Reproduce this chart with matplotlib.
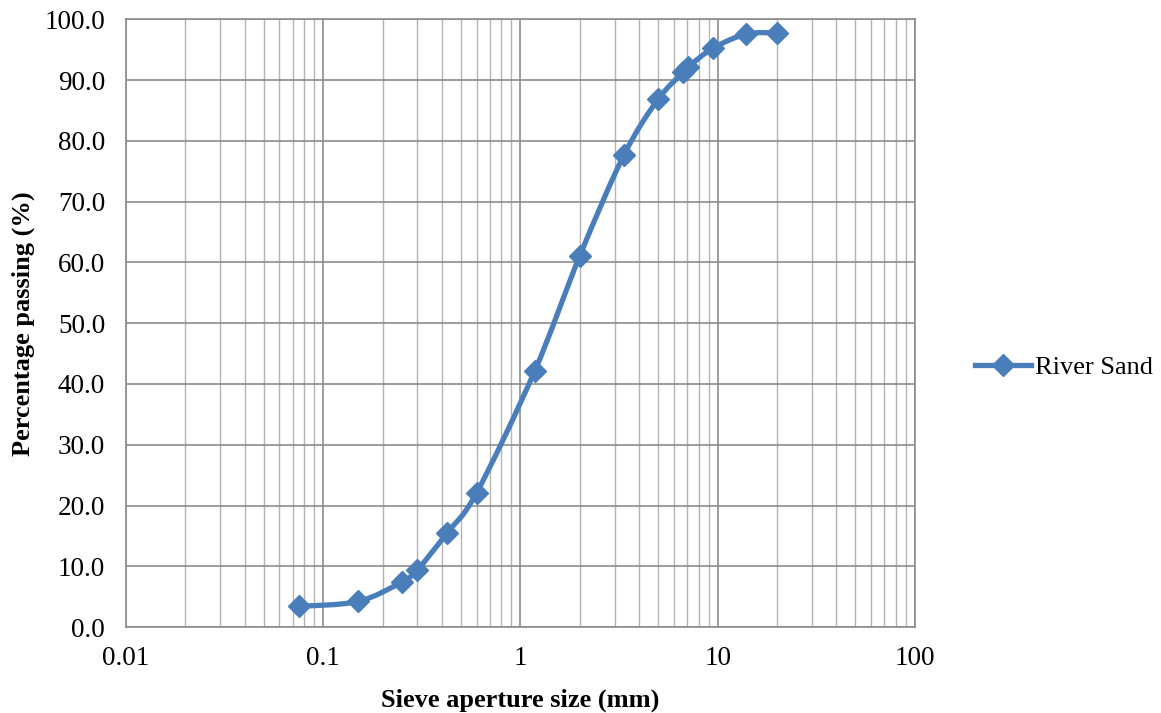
import numpy as np
import matplotlib.pyplot as plt
from matplotlib.path import Path
from matplotlib.patches import PathPatch
from matplotlib.lines import Line2D

# Sieve analysis - river sand
sieve_size = [0.075, 0.15, 0.25, 0.3, 0.425, 0.6, 1.18, 2.0, 3.35, 5.0, 6.7, 7.1, 9.5, 14.0, 20.0]
passing = [3.4, 4.2, 7.4, 9.4, 15.5, 22.1, 42.1, 61.1, 77.7, 86.9, 91.3, 92.2, 95.3, 97.6, 97.8]
series_name = "River Sand"

blue = "#4a7ebb"
plt.rcParams['font.family'] = ['Liberation Serif', 'DejaVu Serif']

fig = plt.figure(figsize=(11.61, 7.13), dpi=100)
ax = fig.add_axes([0.1085, 0.1206, 0.6795, 0.8521])
ax.set_xscale('log')
ax.set_xlim(0.01, 100)
ax.set_ylim(0, 100)

# smoothed line like excel: bezier control points worked out in log-x space
lx = np.log10(sieve_size)
py = np.array(passing)
n = len(lx)
verts = [(sieve_size[0], passing[0])]
codes = [Path.MOVETO]
for i in range(n - 1):
    a = max(i - 1, 0)
    b = min(i + 2, n - 1)
    c1x = lx[i] + (lx[i + 1] - lx[a]) / 6
    c1y = py[i] + (py[i + 1] - py[a]) / 6
    c2x = lx[i + 1] - (lx[b] - lx[i]) / 6
    c2y = py[i + 1] - (py[b] - py[i]) / 6
    verts += [(10 ** c1x, c1y), (10 ** c2x, c2y), (sieve_size[i + 1], passing[i + 1])]
    codes += [Path.CURVE4] * 3
ax.add_patch(PathPatch(Path(verts, codes), fill=False, edgecolor=blue, lw=3.8,
                       capstyle='round', joinstyle='round', zorder=3))
ax.plot(sieve_size, passing, ls='none', marker='D', ms=11, color=blue, zorder=4)

ax.set_yticks(np.arange(0, 101, 10))
ax.set_yticklabels([f"{v:.1f}" for v in np.arange(0, 101, 10)])
ax.set_xticks([0.01, 0.1, 1, 10, 100])
ax.set_xticklabels(["0.01", "0.1", "1", "10", "100"])
ax.tick_params(axis='y', which='both', length=0, labelsize=19.5, pad=15)
ax.tick_params(axis='x', which='both', length=0, labelsize=19.5, pad=14)
ax.grid(True, which='major', color='#8c8c8c', lw=1.2)
ax.grid(True, which='minor', axis='x', color='#b4b4b4', lw=1.0)
for s in ax.spines.values():
    s.set_color('#8c8c8c')
    s.set_linewidth(1.2)

ax.set_xlabel("Sieve aperture size (mm)", fontsize=19, fontweight='bold', labelpad=12)
ax.set_ylabel("Percentage passing (%)", fontsize=19, fontweight='bold', labelpad=7)

handle = Line2D([], [], color=blue, lw=3.8, marker='D', ms=11)
fig.legend([handle], [series_name], loc='center left', bbox_to_anchor=(0.84, 0.485),
           frameon=False, fontsize=19, handlelength=2.1, handletextpad=0.15,
           borderaxespad=0, borderpad=0)

fig.savefig("out.png", dpi=100)
